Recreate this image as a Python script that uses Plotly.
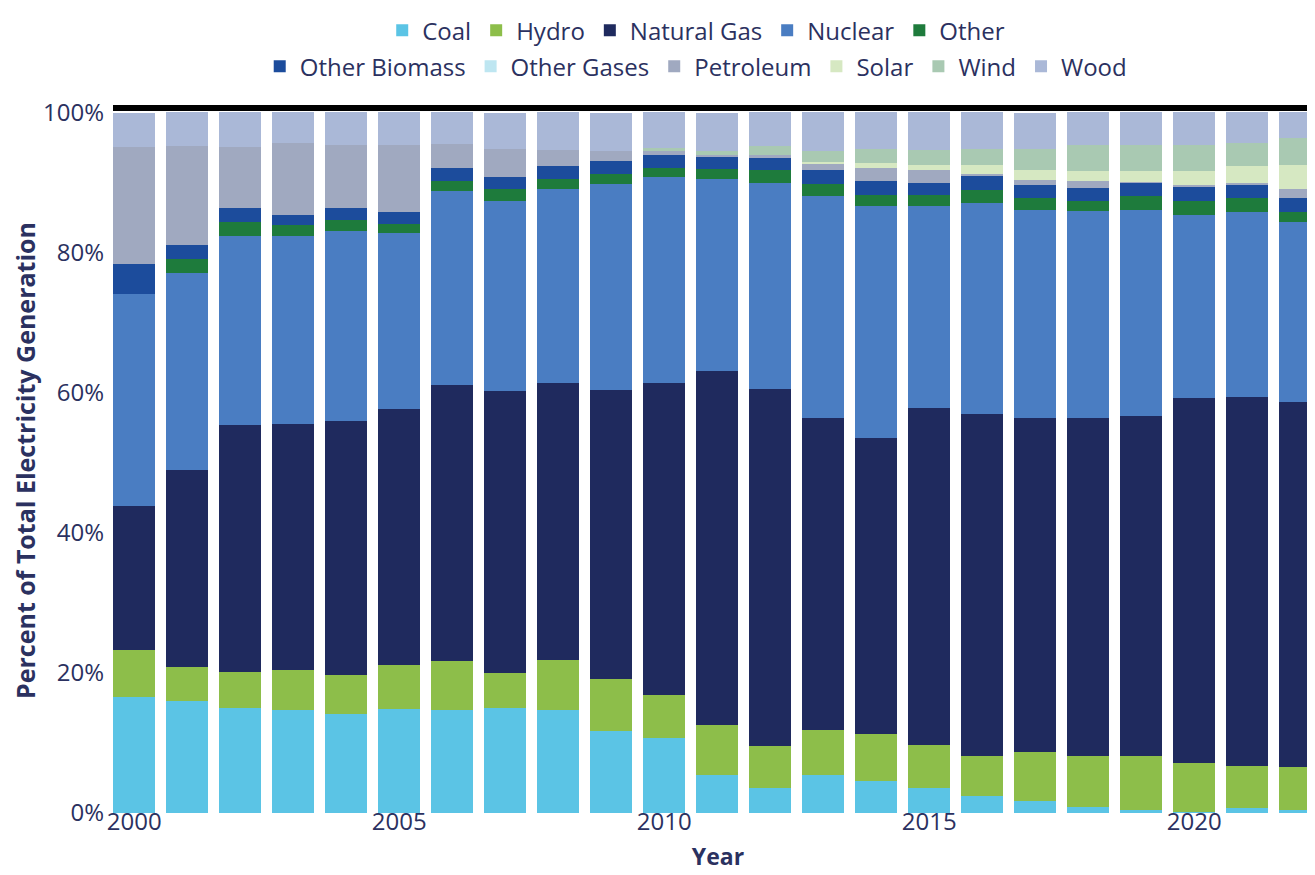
import plotly.graph_objects as go

years = [2000, 2001, 2002, 2003, 2004, 2005, 2006, 2007, 2008, 2009, 2010, 2011,
         2012, 2013, 2014, 2015, 2016, 2017, 2018, 2019, 2020, 2021, 2022]

coal = [16.5, 16.0, 15.0, 14.7, 14.1, 14.8, 14.7, 15.0, 14.7, 11.7, 10.7, 5.4,
        3.6, 5.4, 4.6, 3.6, 2.4, 1.7, 0.9, 0.4, 0.1, 0.7, 0.4]
hydro = [6.8, 4.9, 5.1, 5.7, 5.6, 6.3, 7.0, 5.0, 7.1, 7.4, 6.1, 7.1,
         6.0, 6.4, 6.7, 6.1, 5.7, 7.0, 7.3, 7.7, 7.0, 6.0, 6.1]
natural_gas = [20.5, 28.0, 35.2, 35.1, 36.2, 36.5, 39.4, 40.2, 39.5, 41.2, 44.5, 50.6,
               50.9, 44.5, 42.2, 48.1, 48.8, 47.6, 48.2, 48.5, 52.1, 52.7, 52.2]
nuclear = [30.2, 28.2, 27.1, 26.8, 27.1, 25.1, 27.7, 27.2, 27.7, 29.5, 29.4, 27.4,
           29.4, 31.8, 33.1, 28.8, 30.1, 29.7, 29.5, 29.5, 26.2, 26.4, 25.7]
other = [0.0, 1.9, 2.0, 1.6, 1.6, 1.4, 1.4, 1.7, 1.4, 1.4, 1.3, 1.4,
         1.9, 1.7, 1.6, 1.6, 1.9, 1.7, 1.4, 1.9, 1.9, 2.0, 1.4]
other_biomass = [4.3, 2.1, 1.9, 1.4, 1.7, 1.6, 1.9, 1.7, 1.9, 1.9, 1.9, 1.7,
                 1.7, 1.9, 2.0, 1.7, 2.0, 1.9, 1.9, 1.9, 2.1, 1.9, 1.9]
other_gases = [0.0, 0.0, 0.0, 0.0, 0.0, 0.0, 0.0, 0.0, 0.0, 0.0, 0.0, 0.0,
               0.0, 0.0, 0.0, 0.0, 0.0, 0.0, 0.0, 0.0, 0.0, 0.0, 0.0]
petroleum = [16.7, 14.1, 8.8, 10.3, 9.0, 9.6, 3.3, 4.0, 2.3, 1.4, 0.5, 0.3,
             0.4, 1.0, 1.9, 1.9, 0.3, 0.7, 1.0, 0.2, 0.2, 0.2, 1.4]
solar = [0.0, 0.0, 0.0, 0.0, 0.0, 0.0, 0.0, 0.0, 0.0, 0.0, 0.0, 0.0,
         0.0, 0.2, 0.7, 0.7, 1.2, 1.4, 1.4, 1.5, 2.0, 2.4, 3.3]
wind = [0.0, 0.0, 0.0, 0.0, 0.0, 0.0, 0.0, 0.0, 0.0, 0.0, 0.5, 0.6,
        1.3, 1.5, 1.9, 2.1, 2.3, 3.1, 3.7, 3.7, 3.7, 3.3, 3.9]
wood = [4.9, 4.9, 4.9, 4.4, 4.7, 4.7, 4.7, 5.1, 5.4, 5.4, 5.1, 5.4,
        4.9, 5.6, 5.4, 5.4, 5.4, 5.1, 4.7, 4.7, 4.7, 4.4, 3.7]

source_names = ["Coal", "Hydro", "Natural Gas", "Nuclear", "Other",
                "Other Biomass", "Other Gases", "Petroleum", "Solar", "Wind", "Wood"]
source_values = [coal, hydro, natural_gas, nuclear, other,
                 other_biomass, other_gases, petroleum, solar, wind, wood]
source_colors = ["#5bc4e5", "#8dbe4a", "#1f2a5e", "#4a7dc2", "#1e7b3c",
                 "#1c4c9c", "#bee6f1", "#a0a9c0", "#d6e8c2", "#a9c9b2", "#aab8d7"]

x_ticks = [2000, 2005, 2010, 2015, 2020]
y_ticks = [0, 20, 40, 60, 80, 100]
y_tick_labels = ["0%", "20%", "40%", "60%", "80%", "100%"]

TEXT = "#2b3160"
FONT = "Open Sans"

fig = go.Figure()
for i, (name, vals, col) in enumerate(zip(source_names, source_values, source_colors)):
    fig.add_trace(go.Bar(
        x=years, y=vals, name=name,
        marker=dict(color=col, line=dict(width=0)),
        legend="legend" if i < 5 else "legend2",
    ))

legend_style = dict(
    orientation="h", xanchor="center",
    font=dict(family=FONT, size=24, color=TEXT),
    bgcolor="rgba(0,0,0,0)", traceorder="normal", borderwidth=0,
)

fig.update_layout(
    barmode="stack",
    bargap=0.2,
    width=1315, height=875,
    margin=dict(l=105, r=0, t=100, b=70, autoexpand=False),
    paper_bgcolor="white", plot_bgcolor="white",
    font=dict(family=FONT, color=TEXT, size=24),
    legend=dict(x=0.482, y=1.1418, yanchor="top", **legend_style),
    legend2=dict(x=0.482, y=1.0588, yanchor="middle", **legend_style),
    xaxis=dict(
        range=[1999.6, 2022.43],
        tickvals=x_ticks,
        tickfont=dict(family=FONT, size=24, color=TEXT),
        ticklabelstandoff=-8,
        showgrid=False, zeroline=False, showline=False, ticks="",
        title=dict(text="Year", font=dict(family=FONT, size=23, color=TEXT, weight="bold"), standoff=12),
    ),
    yaxis=dict(
        range=[0, 100.6],
        tickvals=y_ticks,
        ticktext=y_tick_labels,
        tickfont=dict(family=FONT, size=24, color=TEXT),
        ticklabelstandoff=8,
        showgrid=False, zeroline=False, showline=False, ticks="",
        title=dict(text="Percent of Total Electricity Generation",
                   font=dict(family=FONT, size=25, color=TEXT, weight="bold"), standoff=6),
    ),
    shapes=[dict(type="line", xref="paper", yref="paper", x0=0, x1=1, y0=1, y1=1,
                 line=dict(color="black", width=6))],
)

fig.write_html("out.html")
